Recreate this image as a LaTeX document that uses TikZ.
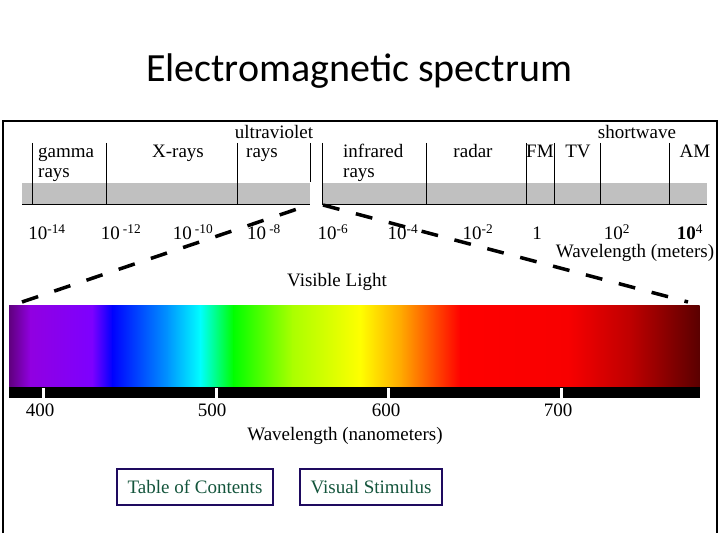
\documentclass[tikz,border=0pt]{standalone}
\usepackage{fontspec}
\setmainfont{Liberation Serif}
\newfontfamily\titlefont{Carlito}
\definecolor{bandgray}{RGB}{192,192,192}
\definecolor{boxnavy}{RGB}{30,10,95}
\definecolor{boxgreen}{RGB}{20,85,60}
\definecolor{sp0}{RGB}{95,0,125}
\definecolor{sp1}{RGB}{145,0,225}
\definecolor{sp2}{RGB}{125,0,255}
\definecolor{sp3}{RGB}{0,0,255}
\definecolor{sp4}{RGB}{0,150,255}
\definecolor{sp5}{RGB}{0,255,255}
\definecolor{sp6}{RGB}{0,255,0}
\definecolor{sp7}{RGB}{170,255,0}
\definecolor{sp8}{RGB}{255,255,0}
\definecolor{sp9}{RGB}{255,165,0}
\definecolor{sp10}{RGB}{255,0,0}
\definecolor{sp11}{RGB}{248,0,0}
\definecolor{sp12}{RGB}{190,0,0}
\definecolor{sp13}{RGB}{90,0,0}
\begin{document}
\begin{tikzpicture}[x=1pt,y=-1pt,
  lbl/.style={font=\fontsize{19}{21}\selectfont, inner sep=0pt, anchor=base},
  lblw/.style={lbl, anchor=base west},
  divider/.style={draw=black, line width=1pt},
  zoomline/.style={draw=black, line width=3.5pt, dash pattern=on 17pt off 17pt},
  linkbox/.style={draw=boxnavy, line width=1.6pt, text=boxgreen, inner sep=0pt,
    font=\fontsize{19}{21}\selectfont, minimum height=36pt}]
\useasboundingbox (0,0) rectangle (720,540);
% title
\node[font=\titlefont\fontsize{40}{44}\selectfont, inner sep=0pt, anchor=base] (title) at (359,82) {Electromagnetic spectrum};
% frame
\draw[line width=1.2pt] (3,533) -- (3,121) -- (717,121) -- (717,533);
% gray bands
\fill[bandgray] (22,183) rectangle (310,205);
\fill[bandgray] (322,183) rectangle (707,205);
\draw[divider] (22,205) -- (310,205);
\draw[divider] (322,205) -- (707,205);
% dividers
\foreach \xx in {32,106,237,322,426,526,554,600,669}
  \draw[divider] (\xx,143) -- (\xx,205);
\draw[divider] (310,143) -- (310,182);
% band labels
\node[lblw] (gamma) at (38,158) {gamma};
\node[lblw] (gammab) at (38,178) {rays};
\node[lbl] (xrays) at (178,158) {X-rays};
\node[lbl] (uv) at (274,139) {ultraviolet};
\node[lblw] (uvb) at (246,158) {rays};
\node[lblw] (ir) at (343,158) {infrared};
\node[lblw] (irb) at (343,178) {rays};
\node[lbl] (radar) at (473,158) {radar};
\node[lblw] (fm) at (526,158) {FM};
\node[lbl] (tv) at (578,158) {TV};
\node[lbl] (sw) at (637,139) {shortwave};
\node[lbl] (am) at (695,158) {AM};
% wavelength numbers
\node[lbl] (n14) at (47,240) {10\textsuperscript{-14}};
\node[lbl] (n12) at (121,240) {10\,\textsuperscript{-12}};
\node[lbl] (n10) at (193,240) {10\,\textsuperscript{-10}};
\node[lbl] (n8) at (264,240) {10\,\textsuperscript{-8}};
\node[lbl] (n6) at (333,240) {10\textsuperscript{-6}};
\node[lbl] (n4) at (403,240) {10\textsuperscript{-4}};
\node[lbl] (n2) at (478,240) {10\textsuperscript{-2}};
\node[lbl] (n0) at (537,240) {1};
\node[lbl] (p2) at (617,240) {10\textsuperscript{2}};
\node[lbl] (p4) at (690,240) {\textbf{10}\textsuperscript{4}};
\node[lbl] (wlm) at (635,258) {Wavelength (meters)};
% zoom lines
\coordinate (zl0) at (22,302);
\coordinate (zl1) at (309,205);
\coordinate (zr0) at (323,205);
\coordinate (zr1) at (688,302);
\draw[zoomline] (zl0) -- (zl1);
\draw[zoomline] (zr0) -- (zr1);
\node[lbl] (vis) at (337,286) {Visible Light};
% spectrum
\foreach \xa/\ca/\xb/\cb in {9/sp0/30/sp1, 30/sp1/92/sp2, 92/sp2/112/sp3, 112/sp3/168/sp4,
  168/sp4/200/sp5, 200/sp5/233/sp6, 233/sp6/292/sp7, 292/sp7/360/sp8, 360/sp8/402/sp9,
  402/sp9/460/sp10, 460/sp10/568/sp11, 568/sp11/630/sp12, 630/sp12/699/sp13}
  \shade[left color=\ca, right color=\cb] (\xa,305) rectangle (\xb+0.7,387);
\fill[black] (9,387) rectangle (699.7,398);
\foreach \xx in {43,216,388,561}
  \fill[white] (\xx-1.5,388) rectangle (\xx+1.5,398);
\node[lbl] (l400) at (40,416) {400};
\node[lbl] (l500) at (212,416) {500};
\node[lbl] (l600) at (386,416) {600};
\node[lbl] (l700) at (558,416) {700};
\node[lbl] (wln) at (345,440) {Wavelength (nanometers)};
% link boxes
\node[linkbox, minimum width=156pt] (toc) at (195,487) {Table of Contents};
\node[linkbox, minimum width=142pt] (vs) at (371,487) {Visual Stimulus};
\end{tikzpicture}
\end{document}
